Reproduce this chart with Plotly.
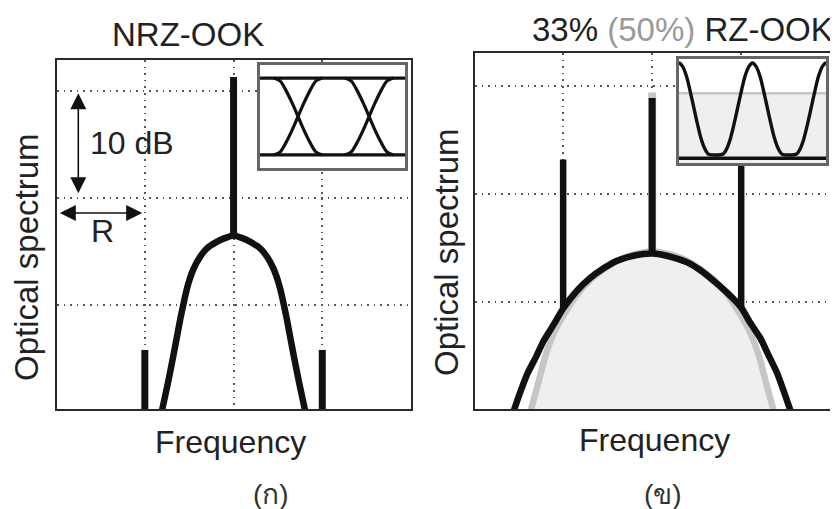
import plotly.graph_objects as go

W, H = 838, 509          # browser window
OFF = 8                  # default page margin around the figure
FW, FH = W - OFF, H - OFF
FLOOR = -12.0  # baseline below the visible range (spectra run off the bottom)

# ---------------- data ----------------
# (a) NRZ-OOK optical spectrum (dB, grid every 10 dB; frequency in units of R)
nrz_x = [-0.81, -0.74, -0.675, -0.6, -0.52, -0.45, -0.37, -0.3, -0.2, -0.1, 0.0,
         0.1, 0.2, 0.3, 0.37, 0.45, 0.52, 0.6, 0.675, 0.74, 0.81]
nrz_y = [-10.0, -7.3, -4.6, -1.3, 1.7, 3.4, 4.6, 5.3, 5.85, 6.25, 6.5,
         6.25, 5.85, 5.3, 4.6, 3.4, 1.7, -1.3, -4.6, -7.3, -10.0]
nrz_carrier = [6.5, 21.3]          # base, top of carrier line at f = 0
nrz_tone_x = [-1.0, 1.0]
nrz_tone_top = [-4.2, -4.2]

# (b) 33 % RZ-OOK (black) and 50 % RZ-OOK (grey)
rz33_x = [-1.56, -1.48, -1.4, -1.3, -1.22, -1.1, -1.0, -0.85, -0.7, -0.55, -0.4, -0.25, -0.1, 0.0,
          0.1, 0.25, 0.4, 0.55, 0.7, 0.85, 1.0, 1.1, 1.22, 1.3, 1.4, 1.48, 1.56]
rz33_y = [-10.2, -8.3, -6.6, -5.0, -3.6, -2.0, -0.6, 1.0, 2.2, 3.1, 3.8, 4.2, 4.45, 4.5,
          4.4, 4.1, 3.65, 2.9, 1.9, 0.8, -0.5, -1.9, -3.4, -4.8, -6.5, -8.3, -10.2]
rz50_x = [-1.37, -1.28, -1.2, -1.1, -1.0, -0.85, -0.7, -0.55, -0.4, -0.25, -0.1, 0.0,
          0.1, 0.25, 0.4, 0.55, 0.7, 0.85, 1.0, 1.1, 1.2, 1.28, 1.37]
rz50_y = [-10.2, -7.5, -5.0, -2.8, -1.3, 0.6, 2.0, 3.0, 3.8, 4.3, 4.6, 4.7,
          4.6, 4.3, 3.8, 3.0, 2.0, 0.6, -1.3, -2.8, -5.0, -7.5, -10.2]
rz33_carrier = [4.5, 18.9]
rz50_carrier = [4.7, 19.4]
rz_tone_x = [-1.0, 1.0]
rz_tone_base = [-0.5, -0.5]
rz_tone_top = [13.2, 13.2]

# eye-diagram insets (normalised amplitude, time in bit slots)
eye_cross = [0.535, 1.535]
eye_off = [-0.34, -0.25, -0.17, -0.08, 0.0, 0.08, 0.17, 0.25, 0.34]
eye_fall = [1.0, 0.96, 0.84, 0.67, 0.5, 0.33, 0.16, 0.04, 0.0]
rz_peaks = [0.0, 1.0, 2.0]
rz_off = [0.0, 0.05, 0.1, 0.15, 0.2, 0.25, 0.3, 0.35, 0.4, 0.5]
rz_pulse = [1.0, 0.96, 0.86, 0.7, 0.52, 0.34, 0.18, 0.07, 0.01, 0.0]
rz50_level = 0.67

# ---------------- axis geometry ----------------
L_XR, L_YR = [-1.99, 2.0], [-9.72, 22.9]
R_XR, R_YR = [-1.99, 2.02], [-9.9, 23.06]
EYE_L_XR, EYE_L_YR = [0.0, 2.04], [-0.17, 1.17]
EYE_R_XR, EYE_R_YR = [0.0, 2.0], [-0.087, 1.043]

BLACK = "#111111"
GREY = "#c6c6c6"
FILL = "#efefef"
TXT = "#222222"
FONT = "Liberation Sans, Arial, sans-serif"


def px(x):
    return (x - OFF) / FW


def py(y):
    return 1 - (y - OFF) / FH


def segs(xs, y0s, y1s):
    X, Y = [], []
    for x, a, b in zip(xs, y0s, y1s):
        X += [x, x, None]
        Y += [a, b, None]
    return X, Y


fig = go.Figure()

# ---- (a) NRZ panel ----
fig.add_trace(go.Scatter(x=nrz_x, y=nrz_y, mode="lines", xaxis="x", yaxis="y",
                         line=dict(color=BLACK, width=6.5, shape="spline", smoothing=0.4)))
cx, cy = segs([0.0], [nrz_carrier[0]], [nrz_carrier[1]])
fig.add_trace(go.Scatter(x=cx, y=cy, mode="lines", xaxis="x", yaxis="y",
                         line=dict(color=BLACK, width=7)))
tx, ty = segs(nrz_tone_x, [FLOOR] * len(nrz_tone_x), nrz_tone_top)
fig.add_trace(go.Scatter(x=tx, y=ty, mode="lines", xaxis="x", yaxis="y",
                         line=dict(color=BLACK, width=7)))

# ---- (b) RZ panel ----
fig.add_trace(go.Scatter(x=rz50_x + [rz50_x[-1], rz50_x[0]], y=rz50_y + [FLOOR, FLOOR],
                         mode="lines", fill="toself", fillcolor=FILL,
                         line=dict(width=0), xaxis="x2", yaxis="y2"))
fig.add_trace(go.Scatter(x=rz50_x, y=rz50_y, mode="lines", xaxis="x2", yaxis="y2",
                         line=dict(color=GREY, width=6.5, shape="spline", smoothing=0.6)))
gx, gy = segs([0.0], [rz50_carrier[0]], [rz50_carrier[1]])
fig.add_trace(go.Scatter(x=gx, y=gy, mode="lines", xaxis="x2", yaxis="y2",
                         line=dict(color=GREY, width=8)))
fig.add_trace(go.Scatter(x=rz33_x, y=rz33_y, mode="lines", xaxis="x2", yaxis="y2",
                         line=dict(color=BLACK, width=6.5, shape="spline", smoothing=0.6)))
bx_, by_ = segs([0.0], [rz33_carrier[0]], [rz33_carrier[1]])
fig.add_trace(go.Scatter(x=bx_, y=by_, mode="lines", xaxis="x2", yaxis="y2",
                         line=dict(color=BLACK, width=7)))
sx, sy = segs(rz_tone_x, rz_tone_base, rz_tone_top)
fig.add_trace(go.Scatter(x=sx, y=sy, mode="lines", xaxis="x2", yaxis="y2",
                         line=dict(color=BLACK, width=6.5)))

# ---- left inset: NRZ eye ----
fig.add_trace(go.Scatter(x=[EYE_L_XR[0], EYE_L_XR[1], EYE_L_XR[1], EYE_L_XR[0]],
                         y=[EYE_L_YR[0], EYE_L_YR[0], EYE_L_YR[1], EYE_L_YR[1]],
                         mode="lines", fill="toself", fillcolor="white", line=dict(width=0),
                         xaxis="x3", yaxis="y3"))
ex, ey = [], []
for c in eye_cross:
    ex += [c + o for o in eye_off] + [None]
    ey += eye_fall + [None]
    ex += [c + o for o in eye_off] + [None]
    ey += [1 - v for v in eye_fall] + [None]
ex += [EYE_L_XR[0], EYE_L_XR[1], None, EYE_L_XR[0], EYE_L_XR[1]]
ey += [1.0, 1.0, None, 0.0, 0.0]
fig.add_trace(go.Scatter(x=ex, y=ey, mode="lines", xaxis="x3", yaxis="y3",
                         line=dict(color=BLACK, width=3.2, shape="spline", smoothing=0.8)))

# ---- right inset: RZ eye ----
fig.add_trace(go.Scatter(x=[EYE_R_XR[0], EYE_R_XR[1], EYE_R_XR[1], EYE_R_XR[0]],
                         y=[EYE_R_YR[0], EYE_R_YR[0], EYE_R_YR[1], EYE_R_YR[1]],
                         mode="lines", fill="toself", fillcolor="white", line=dict(width=0),
                         xaxis="x4", yaxis="y4"))
fig.add_trace(go.Scatter(x=[EYE_R_XR[0], EYE_R_XR[1], EYE_R_XR[1], EYE_R_XR[0]],
                         y=[EYE_R_YR[0], EYE_R_YR[0], rz50_level, rz50_level],
                         mode="lines", fill="toself", fillcolor=FILL, line=dict(width=0),
                         xaxis="x4", yaxis="y4"))
fig.add_trace(go.Scatter(x=EYE_R_XR, y=[rz50_level, rz50_level], mode="lines",
                         xaxis="x4", yaxis="y4", line=dict(color=GREY, width=2.5)))
bx, by = [], []
for p in rz_peaks:
    for o, v in zip(reversed(rz_off), reversed(rz_pulse)):
        bx.append(p - o)
        by.append(v)
    for o, v in zip(rz_off[1:], rz_pulse[1:]):
        bx.append(p + o)
        by.append(v)
fig.add_trace(go.Scatter(x=bx, y=by, mode="lines", xaxis="x4", yaxis="y4",
                         line=dict(color=BLACK, width=3.4, shape="spline", smoothing=0.8)))
fig.add_trace(go.Scatter(x=EYE_R_XR, y=[-0.035, -0.035], mode="lines", xaxis="x4", yaxis="y4",
                         line=dict(color=BLACK, width=3.5)))

# ---------------- layout ----------------
grid = dict(showgrid=True, gridcolor="#555555", gridwidth=1.6, griddash="1.6px,5px",
            zeroline=False, showticklabels=False, ticks="", showline=True, mirror=True,
            linecolor="#2a2a2a", linewidth=2)
inset = dict(showgrid=False, zeroline=False, showticklabels=False, ticks="",
             showline=True, mirror=True, linecolor="#666666", linewidth=2.5)

layout = dict(
    width=FW, height=FH, margin=dict(l=0, r=0, t=0, b=0),
    paper_bgcolor="white", plot_bgcolor="white", showlegend=False,
    xaxis=dict(domain=[px(57), px(411)], range=L_XR, tickvals=[-1, 0, 1], anchor="y", **grid),
    yaxis=dict(domain=[py(409), py(60)], range=L_YR, tickvals=[0, 10, 20], anchor="x", **grid),
    xaxis2=dict(domain=[px(475), px(832)], range=R_XR, tickvals=[-1, 0, 1], anchor="y2", **grid),
    yaxis2=dict(domain=[py(409), py(53)], range=R_YR, tickvals=[0, 10, 20], anchor="x2", **grid),
    xaxis3=dict(domain=[px(260), px(405)], range=EYE_L_XR, anchor="y3", **inset),
    yaxis3=dict(domain=[py(168), py(65)], range=EYE_L_YR, anchor="x3", **inset),
    xaxis4=dict(domain=[px(679), px(826)], range=EYE_R_XR, anchor="y4", **inset),
    yaxis4=dict(domain=[py(163), py(59)], range=EYE_R_YR, anchor="x4", **inset),
)
fig.update_layout(**layout)


def label(text, x, y, size=33, angle=0, color=TXT):
    fig.add_annotation(text=text, x=px(x), y=py(y), xref="paper", yref="paper",
                       xanchor="center", yanchor="middle", showarrow=False,
                       textangle=angle, font=dict(family=FONT, size=size, color=color))


label("NRZ-OOK", 188, 35)
label('33% <span style="color:#9a9a9a">(50%)</span> RZ-OOK', 682, 29)
label("Optical spectrum", 26, 257, angle=-90)
label("Optical spectrum", 446, 252, angle=-90)
label("Frequency", 230, 442, size=32)
label("Frequency", 654, 440, size=32)
label("10 dB", 132, 143, size=32)
label("R", 102, 231, size=32)
label("(ก)", 271, 494, size=28, color="#333333")
label("(ข)", 663, 494, size=28, color="#333333")

# double-headed arrows (10 dB span and R span)
arrow = dict(showarrow=True, text="", arrowhead=2, startarrowhead=2, arrowside="end+start",
             arrowwidth=1.6, arrowsize=2, startarrowsize=2, standoff=0, startstandoff=0,
             arrowcolor=BLACK, xref="x", yref="y", axref="x", ayref="y")
fig.add_annotation(x=-1.75, y=19.8, ax=-1.75, ay=10.3, **arrow)
fig.add_annotation(x=-1.03, y=8.6, ax=-1.975, ay=8.6, **arrow)

fig.write_html("out.html")
